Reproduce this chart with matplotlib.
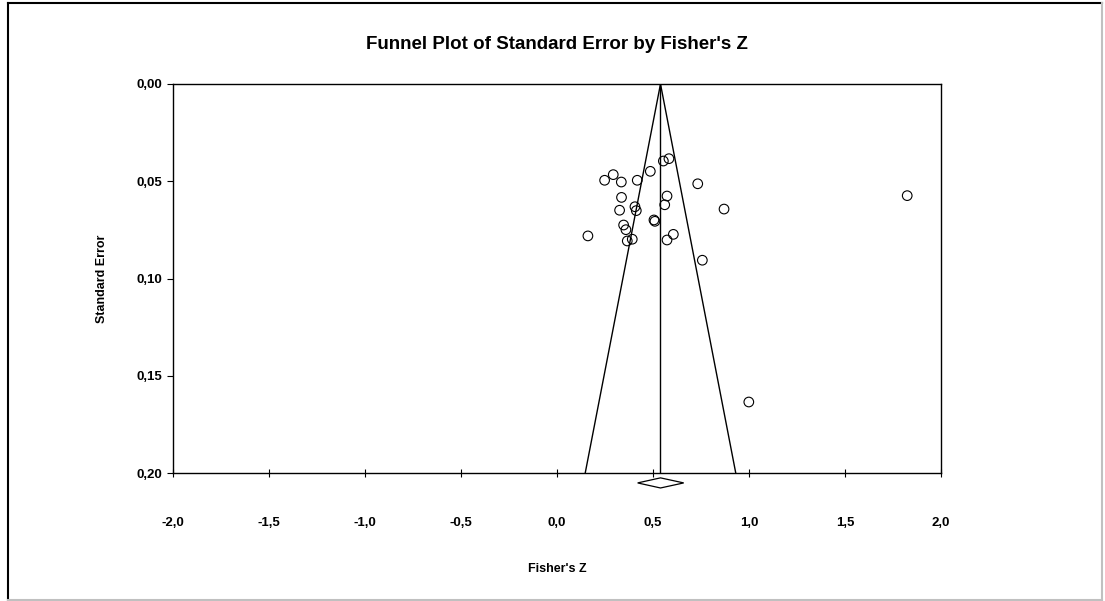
import numpy as np
import matplotlib.pyplot as plt
from matplotlib.patches import Polygon

plt.rcParams['font.family'] = ['Liberation Sans', 'DejaVu Sans']

# study effects (Fisher's Z) and their standard errors
fisherZ = [0.554, 0.583, 0.293, 0.248, 0.335, 0.418, 0.486, 0.733, 0.573,
           0.561, 0.336, 0.326, 0.406, 0.413, 0.870, 0.505, 0.510, 0.347,
           0.359, 0.161, 0.366, 0.392, 0.606, 0.573, 0.757, 1.824, 0.999]
stdErr = [0.0396, 0.0384, 0.0466, 0.0495, 0.0504, 0.0495, 0.0449, 0.0513,
          0.0576, 0.0621, 0.0583, 0.0649, 0.0631, 0.0651, 0.0643, 0.0699,
          0.0706, 0.0725, 0.0749, 0.0781, 0.0807, 0.0798, 0.0773, 0.0802,
          0.0906, 0.0574, 0.1635]

# pooled estimate and its confidence interval
pooledZ = 0.539
pooledLow = 0.42
pooledHigh = 0.66

xTicks = [-2.0, -1.5, -1.0, -0.5, 0.0, 0.5, 1.0, 1.5, 2.0]
yTicks = [0.00, 0.05, 0.10, 0.15, 0.20]

W, H = 1105, 601
fig = plt.figure(figsize=(W/100, H/100), dpi=100)
ax = fig.add_axes([173/W, 1-473/H, (941-173)/W, (473-84)/H])

# outer frame: black top/left, grey right/bottom
def frameLine(x, y, c):
    fig.add_artist(plt.Line2D(x, y, color=c, lw=1.5, transform=fig.transFigure))

frameLine([8/W, 8/W], [0, 1-3/H], 'black')
frameLine([8/W, 1102/W], [1-3/H, 1-3/H], 'black')
frameLine([8/W, 1102/W], [1/H, 1/H], '#c0c0c0')
frameLine([1102/W, 1102/W], [1/H, 1-3/H], '#c0c0c0')

# funnel
seMax = 0.2
ax.plot([pooledZ - 1.96*seMax, pooledZ, pooledZ + 1.96*seMax], [seMax, 0, seMax], color='black', lw=1)
ax.plot([pooledZ, pooledZ], [0, seMax], color='black', lw=1)

ax.scatter(fisherZ, stdErr, s=48, facecolors='none', edgecolors='black', linewidths=0.8, zorder=3)

# diamond for the pooled estimate, below the axis
yd = 0.2051
dy = 0.0026
diamond = Polygon([[pooledLow, yd], [pooledZ, yd - dy], [pooledHigh, yd], [pooledZ, yd + dy]],
                  closed=True, fill=False, edgecolor='black', lw=0.9, clip_on=False)
ax.add_patch(diamond)

ax.set_xlim(-2, 2)
ax.set_ylim(0.2, 0)
ax.set_xticks(xTicks)
ax.set_yticks(yTicks)
ax.set_xticklabels([('%.1f' % v).replace('.', ',') for v in xTicks], fontweight='bold', fontsize=9.5)
ax.set_yticklabels([('%.2f' % v).replace('.', ',') for v in yTicks], fontweight='bold', fontsize=9.5)
ax.tick_params(axis='x', direction='inout', length=6, width=0.8, pad=29)
ax.tick_params(axis='y', direction='out', length=4, width=0.8, pad=4)
for s in ax.spines.values():
    s.set_linewidth(1)

ax.set_title("Funnel Plot of Standard Error by Fisher's Z", fontweight='bold', fontsize=13.5, pad=25)
ax.set_xlabel("Fisher's Z", fontweight='bold', fontsize=9, labelpad=24)
ax.set_ylabel('Standard Error', fontweight='bold', fontsize=9, labelpad=20)

fig.savefig('out.png', dpi=100)
